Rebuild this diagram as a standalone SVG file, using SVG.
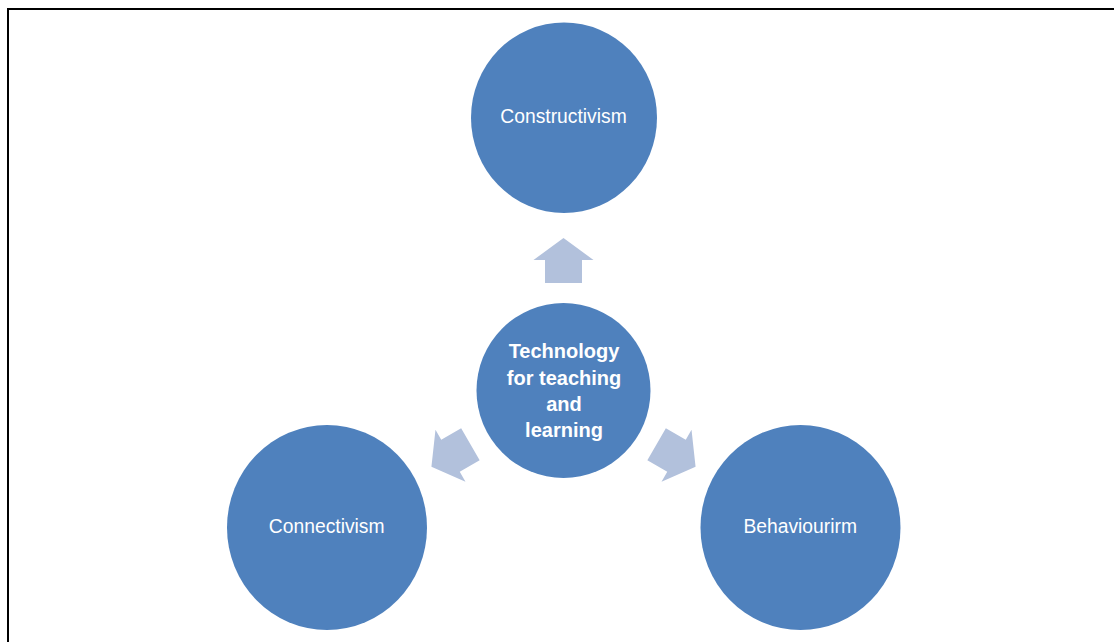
<svg xmlns="http://www.w3.org/2000/svg" width="1114" height="642" viewBox="0 0 1114 642">
<style>
.node{fill:#4F81BD;}
.arrow{fill:#B2C1DC;}
.lbl{font-family:"Liberation Sans",Arial,sans-serif;font-size:19.3px;fill:#FFFFFF;text-anchor:middle;}
.hub{font-family:"Liberation Sans",Arial,sans-serif;font-size:20px;font-weight:bold;fill:#FFFFFF;text-anchor:middle;}
</style>
<defs>
<polygon id="arr" points="563.5,238 593.5,260 582,260 582,283 545,283 545,260 533.5,260"/>
</defs>
<rect x="0" y="0" width="1114" height="642" fill="#FFFFFF"/>
<path d="M8,642 V9 H1114" fill="none" stroke="#000000" stroke-width="2"/>
<g id="connectors">
<use href="#arr" class="arrow"/>
<use href="#arr" class="arrow" transform="rotate(-120 563.5 390.5)"/>
<use href="#arr" class="arrow" transform="rotate(120 563.5 390.5)"/>
</g>
<g id="node-center">
<ellipse class="node" cx="563.5" cy="390.5" rx="87" ry="87.5"/>
<text class="hub" x="564" y="358">Technology</text>
<text class="hub" x="564" y="384.5">for teaching</text>
<text class="hub" x="564" y="410.5">and</text>
<text class="hub" x="564" y="437">learning</text>
</g>
<g id="node-constructivism">
<ellipse class="node" cx="564" cy="117.7" rx="93" ry="95.3"/>
<text class="lbl" x="563.5" y="123">Constructivism</text>
</g>
<g id="node-connectivism">
<ellipse class="node" cx="327" cy="527.5" rx="100" ry="102.5"/>
<text class="lbl" x="326.7" y="533.3">Connectivism</text>
</g>
<g id="node-behaviourirm">
<ellipse class="node" cx="800.5" cy="527.5" rx="100" ry="102.5"/>
<text class="lbl" x="800.2" y="533.3">Behaviourirm</text>
</g>
</svg>
